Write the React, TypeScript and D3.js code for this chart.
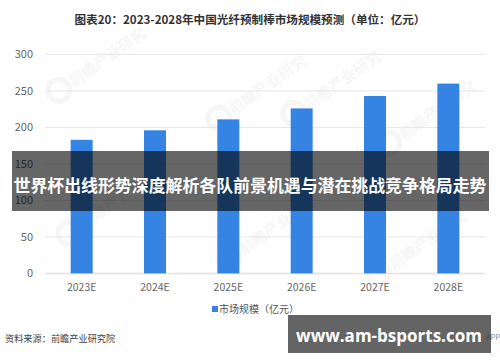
import React from "react";
import * as d3 from "d3";

const categories = ["2023E", "2024E", "2025E", "2026E", "2027E", "2028E"];
const marketSize = [183, 196, 211, 226, 243, 260];
const yTicks = [0, 50, 100, 150, 200, 250, 300];
const titleText = "图表20：2023-2028年中国光纤预制棒市场规模预测（单位：亿元）";
const legendLabel = "市场规模（亿元）";
const sourceText = "资料来源：前瞻产业研究院";
const overlayText = "世界杯出线形势深度解析各队前景机遇与潜在挑战竞争格局走势";
const bannerText = "www.am-bsports.com";

const W = 500;
const H = 362;
const FONT = "'Microsoft YaHei', 'Noto Sans CJK SC', 'Noto Sans', sans-serif";

export default function App() {
  const x = d3.scaleBand<string>().domain(categories).range([45, 485]).paddingInner(0.7).paddingOuter(0.35);
  const y = d3.scaleLinear().domain([0, 300]).range([273.4, 54.4]);

  const watermarks = [
    [85, 72], [320, 95], [415, 125], [95, 215], [255, 240], [405, 255], [245, 100],
  ];

  return (
    <svg width={W} height={H} style={{ position: "absolute", left: 0, top: 0, background: "#fff" }} fontFamily={FONT}>
      <rect x={0} y={0} width={W} height={H} fill="#fff" />
      <text x={250} y={24} textAnchor="middle" fontSize={11.6} fontWeight="bold" fill="#333">{titleText}</text>

      {/* watermarks */}
      {watermarks.map(([wx, wy], i) => (
        <g key={i} transform={`translate(${wx},${wy}) rotate(-35)`} opacity={0.07}>
          <circle cx={-32} cy={0} r={11} fill="none" stroke="#888" strokeWidth={5} />
          <text x={-18} y={6} fontSize={15} fontWeight="bold" fill="#888">前瞻产业研究</text>
        </g>
      ))}

      {/* gridlines */}
      {yTicks.map((t) => (
        <line key={t} x1={45} x2={485} y1={y(t)} y2={y(t)} stroke={t === 0 ? "#e3e3e3" : "#e6e6e6"} strokeWidth={t === 0 ? 1.5 : 1} />
      ))}
      {yTicks.map((t) => (
        <text key={"l" + t} x={33} y={y(t) + 4} textAnchor="end" fontSize={11} fill="#666">{t}</text>
      ))}

      {/* bars */}
      {categories.map((c, i) => (
        <rect key={c} x={x(c)} y={y(marketSize[i])} width={x.bandwidth()} height={y(0) - y(marketSize[i])} fill="#3584e4" />
      ))}
      {categories.map((c) => (
        <text key={"x" + c} x={(x(c) as number) + x.bandwidth() / 2} y={290.5} textAnchor="middle" fontSize={10.5} fill="#666">{c}</text>
      ))}

      {/* legend */}
      <rect x={212} y={306} width={6} height={6} fill="#3584e4" />
      <text x={219} y={313} fontSize={10} fill="#555">{legendLabel}</text>

      {/* source */}
      <text x={5} y={342} fontSize={9.2} fill="#444">{sourceText}</text>

      {/* overlay band */}
      <rect x={12} y={151} width={477} height={60} fill="rgba(0,0,0,0.6)" />
      <text x={250} y={192} textAnchor="middle" fontSize={16.9} fontWeight="bold" fill="#fff">{overlayText}</text>

      {/* bottom banner */}
      <rect x={288} y={315} width={203} height={38} fill="#646464" />
      <text x={389} y={341.5} textAnchor="middle" fontSize={17} fontWeight="bold" fill="#fff" fontFamily="'Open Sans', 'Noto Sans', sans-serif">{bannerText}</text>
      <text x={500} y={340} textAnchor="end" fontSize={7.5} fill="#333" opacity={0.6}>APP</text>
    </svg>
  );
}
